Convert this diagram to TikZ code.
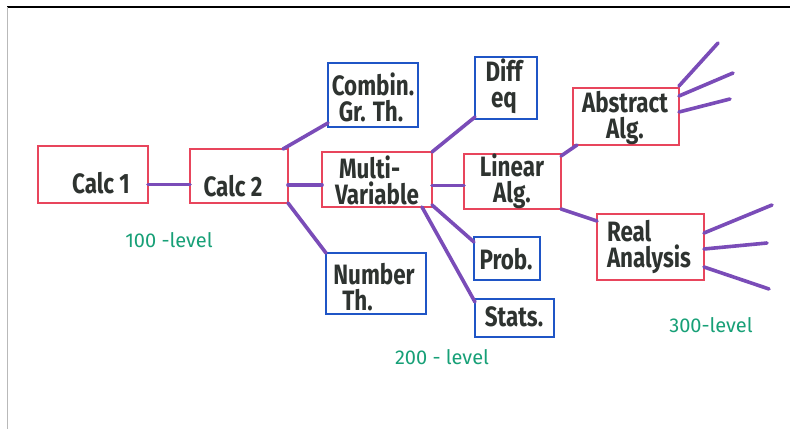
\documentclass[tikz,border=0pt]{standalone}
\usepackage{fontspec}
\newfontfamily\handfont[FakeStretch=0.8]{Fira Sans}
\newfontfamily\greenfont{Fira Sans}
\definecolor{boxred}{HTML}{E8455C}
\definecolor{boxblue}{HTML}{1F55C6}
\definecolor{linkpurple}{HTML}{7A4CB8}
\definecolor{lvlgreen}{HTML}{17A077}
\definecolor{ink}{HTML}{2E3330}
\begin{document}
\begin{tikzpicture}[x=1pt,y=-1pt,
  box/.style={anchor=north west, inner sep=0pt, outer sep=0pt},
  redbox/.style={box, draw=boxred, line width=1.7pt},
  bluebox/.style={box, draw=boxblue, line width=2.6pt},
  link/.style={draw=linkpurple, line width=3.6pt, line cap=round},
  lbl/.style={text=ink, font=\handfont\bfseries\fontsize{28}{26}\selectfont, align=center, inner sep=0pt},
  lbll/.style={lbl, align=left},
  lvl/.style={text=lvlgreen, font=\greenfont\fontsize{20}{20}\selectfont, inner sep=0pt}]
\useasboundingbox (0,0) rectangle (790,429);
\fill[white] (0,0) rectangle (790,429);
\draw[black, line width=1.3pt] (7,7) -- (790,7);
\draw[gray!55, line width=0.8pt] (7,7) -- (7,429);

% boxes
\node[redbox, minimum width=110pt, minimum height=57pt] (calc1) at (38,146) {};
\node[redbox, minimum width=98pt, minimum height=54pt] (calc2) at (190,149) {};
\node[redbox, minimum width=110pt, minimum height=55pt] (multi) at (322,152) {};
\node[bluebox, minimum width=90pt, minimum height=64pt] (combin) at (328,63) {};
\node[bluebox, minimum width=62pt, minimum height=62pt] (diffeq) at (475,57) {};
\node[redbox, minimum width=97pt, minimum height=55pt] (linear) at (464,154) {};
\node[redbox, minimum width=106pt, minimum height=57pt] (abstract) at (573,88) {};
\node[redbox, minimum width=107pt, minimum height=66pt] (real) at (597,214) {};
\node[bluebox, minimum width=66pt, minimum height=43pt] (prob) at (474,237) {};
\node[bluebox, minimum width=79pt, minimum height=38pt] (stats) at (475,299) {};
\node[bluebox, minimum width=100pt, minimum height=61pt] (number) at (326,253) {};

% texts
\node[lbl] (tcalc1) at (101,183) {Calc 1};
\node[lbl] (tcalc2) at (233,186) {Calc 2};
\node[lbll] (tcombin) at (373,97) {Combin.\\\hspace{7pt}Gr. Th.};
\node[lbl] (tdiff) at (504,86) {Diff\\eq};
\node[lbll] (tmulti) at (377,180) {\hspace{4pt}Multi-\\Variable};
\node[lbl] (tlinear) at (512,181) {Linear\\Alg.};
\node[lbl] (tabstract) at (625,118) {Abstract\\Alg.};
\node[lbll] (treal) at (649,247) {Real\\Analysis};
\node[lbl] (tprob) at (506,259) {Prob.};
\node[lbl] (tstats) at (514,317) {Stats.};
\node[lbll] (tnumber) at (374,287) {Number\\\hspace{9pt}Th.};

% level labels
\node[lvl] (l100) at (169,240) {100 -level};
\node[lvl] (l200) at (442,357) {200 - level};
\node[lvl] (l300) at (711,325) {300-level};

% connectors
\draw[link] ([yshift=-10pt]calc1.east) coordinate (p1) -- (p1 -| calc2.west);
\draw[link] ([yshift=-9pt]calc2.east) coordinate (p2) -- (p2 -| multi.west);
\draw[link] ([yshift=-6pt]multi.east) coordinate (p3) -- (p3 -| linear.west);
\draw[link] ([xshift=-5pt]calc2.north east) -- ([yshift=4pt]combin.south west);
\draw[link] (calc2.south east) -- (number.north west);
\draw[link] (multi.north east) -- ([yshift=2pt]diffeq.south west);
\draw[link] ([yshift=2pt]multi.south east) -- ([yshift=-5pt]prob.north west);
\draw[link] ([xshift=-10pt]multi.south east) -- ([yshift=-3pt]stats.north west);
\draw[link] ([yshift=-2pt]linear.north east) -- ([xshift=4pt]abstract.south west);
\draw[link] (linear.south east) -- ([yshift=-7pt]real.north west);

\coordinate (a1) at (718,43);
\coordinate (a2) at (733,73);
\coordinate (a3) at (730,99);
\draw[link] ([yshift=2pt]abstract.north east) -- (a1);
\draw[link] ([yshift=-8pt]abstract.north east) -- (a2);
\draw[link] ([yshift=-24pt]abstract.north east) -- (a3);

\coordinate (r1) at (772,205);
\coordinate (r2) at (767,243);
\coordinate (r3) at (769,289);
\draw[link] ([yshift=-19pt]real.north east) -- (r1);
\draw[link] ([yshift=-35pt]real.north east) -- (r2);
\draw[link] ([yshift=-53pt]real.north east) -- (r3);
\end{tikzpicture}
\end{document}
